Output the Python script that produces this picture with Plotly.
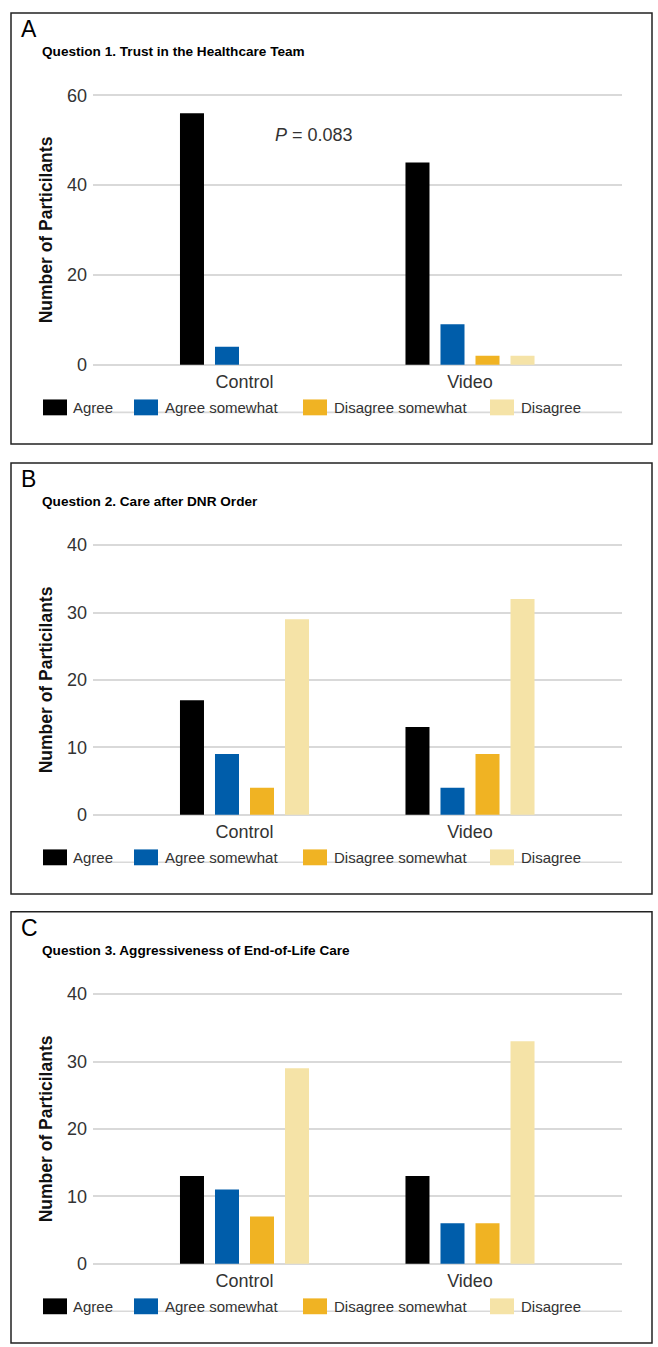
import plotly.graph_objects as go

# ---------------- data ----------------
groups = ["Control", "Video"]
responses = ["Agree", "Agree somewhat", "Disagree somewhat", "Disagree"]
colors = ["#000000", "#005DAA", "#F0B323", "#F5E3A7"]

q1_control = [56, 4, 0, 0]
q1_video = [45, 9, 2, 2]
q2_control = [17, 9, 4, 29]
q2_video = [13, 4, 9, 32]
q3_control = [13, 11, 7, 29]
q3_video = [13, 6, 6, 33]

panel_letters = ["A", "B", "C"]
panel_titles = [
    "Question 1. Trust in the Healthcare Team",
    "Question 2. Care after DNR Order",
    "Question 3. Aggressiveness of End-of-Life Care",
]
y_max = [60, 40, 40]
y_ticks = [[0, 20, 40, 60], [0, 10, 20, 30, 40], [0, 10, 20, 30, 40]]
y_title = "Number of Particilants"
p_value_text = "<i>P</i> = 0.083"

panels = [(q1_control, q1_video), (q2_control, q2_video), (q3_control, q3_video)]

# ---------------- layout helpers (pixels) ----------------
W, H = 658, 1347
FONT = "Liberation Sans"
GRID = "#d9d9d9"


def fx(px):
    return px / W


def fy(py):
    return 1 - py / H


panel_tops = [7, 461, 914]
plot_left, plot_right = 93, 622
ctrl_center, group_step = 244.5, 225.5
legend_swatch_x = [43, 134, 303, 490]
legend_text_x = [71, 163, 332, 519]

fig = go.Figure()
shapes = []
annotations = []
layout_axes = {}

for k, (ctrl, vid) in enumerate(panels):
    top = panel_tops[k]
    grid_top = top + 83
    zero = top + 355
    ppu = (zero - grid_top) / y_max[k]
    pad = 4 / ppu
    sfx = "" if k == 0 else str(k + 1)
    xa, ya = "x" + sfx, "y" + sfx

    for i, resp in enumerate(responses):
        fig.add_trace(go.Bar(
            x=groups, y=[ctrl[i], vid[i]], name=resp,
            marker=dict(color=colors[i], line=dict(width=0)),
            xaxis=xa, yaxis=ya, showlegend=False,
        ))

    x_lo = (plot_left - ctrl_center) / group_step
    x_hi = (plot_right - ctrl_center) / group_step
    layout_axes["xaxis" + sfx] = dict(
        domain=[fx(plot_left), fx(plot_right)], anchor=ya,
        type="category", categoryorder="array", categoryarray=groups,
        range=[x_lo, x_hi], showgrid=False, zeroline=False, showline=False,
        ticks="", tickfont=dict(family=FONT, size=18, color="#333333"),
        fixedrange=True,
    )
    layout_axes["yaxis" + sfx] = dict(
        domain=[fy(zero + pad * ppu), fy(grid_top - pad * ppu)], anchor=xa,
        range=[-pad, y_max[k] + pad], tickmode="array", tickvals=y_ticks[k],
        showgrid=True, gridcolor=GRID, gridwidth=1.6, zeroline=False,
        showline=False, ticks="", ticklabelstandoff=5,
        tickfont=dict(family=FONT, size=18, color="#333333"),
        title=dict(text=y_title, standoff=9,
                   font=dict(family=FONT, size=17.5, color="#111111", weight="bold")),
        fixedrange=True,
    )

    # panel frame
    shapes.append(dict(type="rect", xref="paper", yref="paper",
                       x0=fx(11), x1=fx(652), y0=fy(top + 435), y1=fy(top),
                       line=dict(color="#222222", width=1.5), layer="above"))
    # letter and title
    annotations.append(dict(text=panel_letters[k], xref="paper", yref="paper",
                            x=fx(19), y=fy(top + 16), xanchor="left", yanchor="middle",
                            showarrow=False,
                            font=dict(family=FONT, size=23, color="#000000")))
    annotations.append(dict(text=panel_titles[k], xref="paper", yref="paper",
                            x=fx(40), y=fy(top + 39), xanchor="left", yanchor="middle",
                            showarrow=False,
                            font=dict(family=FONT, size=13.6, color="#000000", weight="bold")))
    # legend rule line
    leg_y = top + 398
    shapes.append(dict(type="line", xref="paper", yref="paper",
                       x0=fx(plot_left), x1=fx(plot_right),
                       y0=fy(leg_y + 5), y1=fy(leg_y + 5),
                       line=dict(color=GRID, width=1.6), layer="below"))
    # legend
    for i, resp in enumerate(responses):
        shapes.append(dict(type="rect", xref="paper", yref="paper",
                           x0=fx(legend_swatch_x[i]), x1=fx(legend_swatch_x[i] + 24),
                           y0=fy(leg_y + 8), y1=fy(leg_y - 8),
                           fillcolor=colors[i], line=dict(width=0), layer="above"))
        annotations.append(dict(text=resp, xref="paper", yref="paper",
                                x=fx(legend_text_x[i]), y=fy(leg_y), xanchor="left",
                                yanchor="middle", showarrow=False, bgcolor="rgba(0,0,0,0)",
                                font=dict(family=FONT, size=15, color="#333333")))

# P value annotation in panel A
annotations.append(dict(text=p_value_text, xref="x", yref="y", x=0.31, y=51.2,
                        xanchor="center", yanchor="middle", showarrow=False,
                        font=dict(family=FONT, size=18, color="#333333")))

fig.update_layout(
    width=W, height=H, margin=dict(l=0, r=0, t=0, b=0),
    paper_bgcolor="white", plot_bgcolor="white",
    barmode="group", bargap=0.379, bargroupgap=0.314,
    showlegend=False, shapes=shapes, annotations=annotations,
    font=dict(family=FONT),
    **layout_axes,
)

fig.write_html(
    "out.html",
    config={"displayModeBar": False},
    post_script="document.body.style.margin='0';document.documentElement.style.overflow='hidden';",
)
